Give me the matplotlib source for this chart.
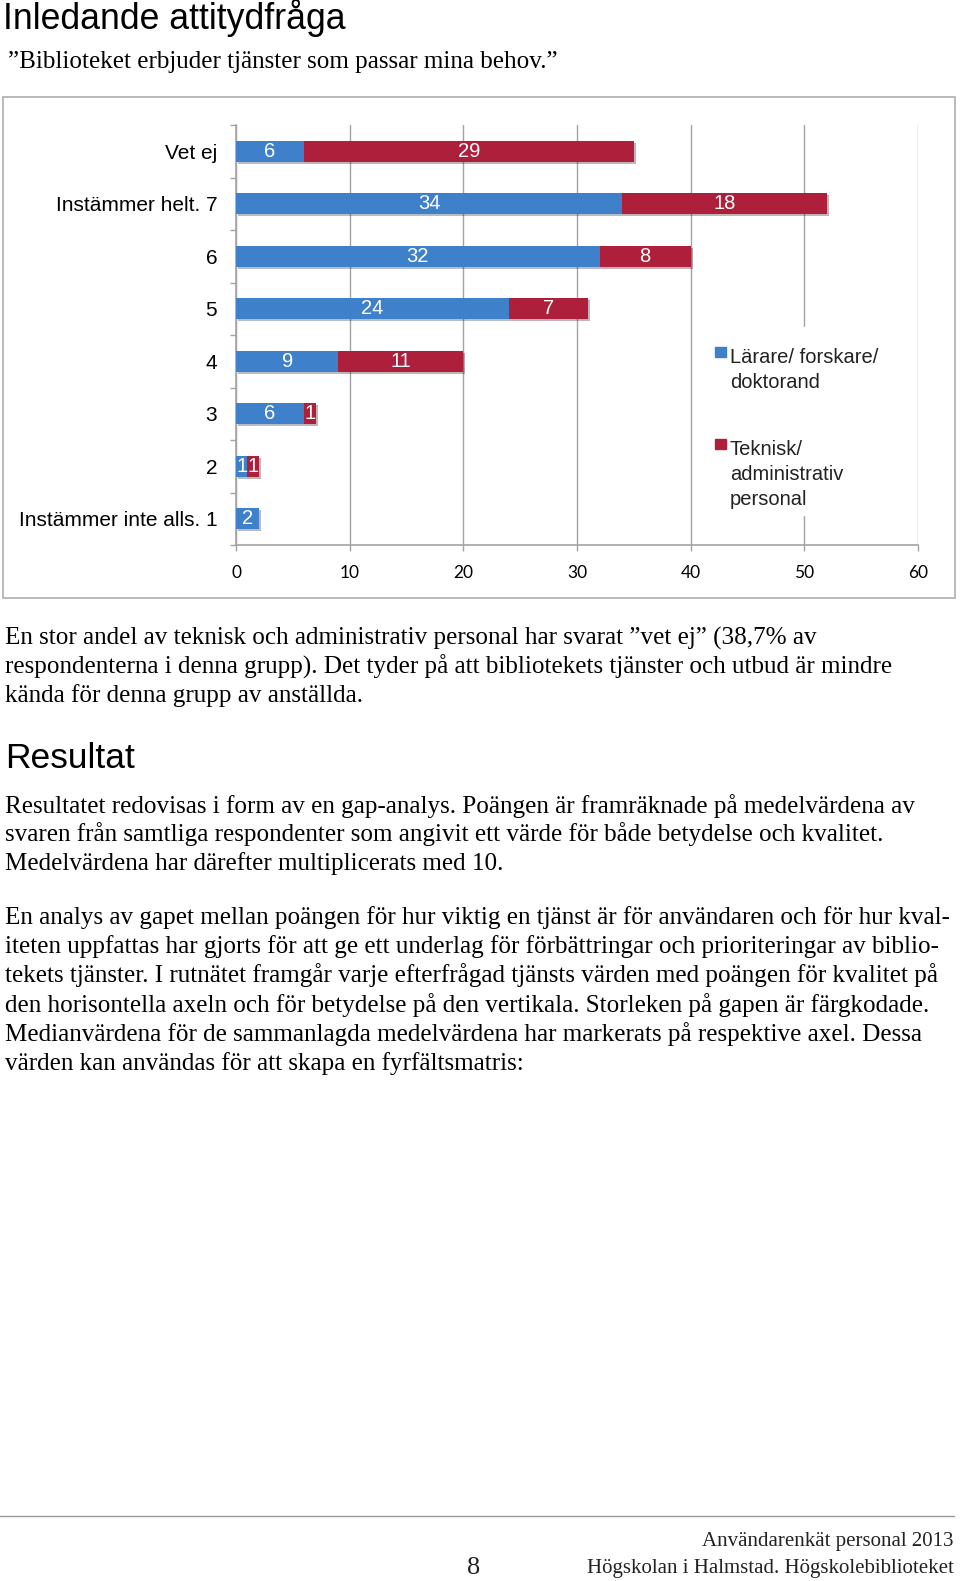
import matplotlib
matplotlib.use("Agg")
import matplotlib.pyplot as plt
import matplotlib.patheffects as pe
from matplotlib.patches import Rectangle
from matplotlib.lines import Line2D
import numpy as np

# --- data ---
kategorier = ["Instämmer inte alls. 1", "2", "3", "4", "5", "6", "Instämmer helt. 7", "Vet ej"]
larare = [2, 1, 6, 9, 24, 32, 34, 6]        # Lärare/ forskare/ doktorand
teknisk = [0, 1, 1, 11, 7, 8, 18, 29]       # Teknisk/ administrativ personal
serie_namn = ["Lärare/ forskare/\ndoktorand", "Teknisk/\nadministrativ\npersonal"]
x_ticks = [0, 10, 20, 30, 40, 50, 60]

rubrik = "Inledande attitydfråga"
fraga = "”Biblioteket erbjuder tjänster som passar mina behov.”"
stycke1 = [
    "En stor andel av teknisk och administrativ personal har svarat ”vet ej” (38,7% av",
    "respondenterna i denna grupp). Det tyder på att bibliotekets tjänster och utbud är mindre",
    "kända för denna grupp av anställda.",
]
rubrik2 = "Resultat"
stycke2 = [
    "Resultatet redovisas i form av en gap-analys. Poängen är framräknade på medelvärdena av",
    "svaren från samtliga respondenter som angivit ett värde för både betydelse och kvalitet.",
    "Medelvärdena har därefter multiplicerats med 10.",
]
stycke3 = [
    "En analys av gapet mellan poängen för hur viktig en tjänst är för användaren och för hur kval-",
    "iteten uppfattas har gjorts för att ge ett underlag för förbättringar och prioriteringar av biblio-",
    "tekets tjänster. I rutnätet framgår varje efterfrågad tjänsts värden med poängen för kvalitet på",
    "den horisontella axeln och för betydelse på den vertikala. Storleken på gapen är färgkodade.",
    "Medianvärdena för de sammanlagda medelvärdena har markerats på respektive axel. Dessa",
    "värden kan användas för att skapa en fyrfältsmatris:",
]
sidfot = ["Användarenkät personal 2013", "Högskolan i Halmstad. Högskolebiblioteket"]
sidnr = "8"

W, H = 960, 1581
BLA = "#3f80cb"
ROD = "#ad1f3b"
GRA = "#a3a3a3"
SANS = "Liberation Sans"
SERIF = "Liberation Serif"
BRODTEXT = 18.1


def fx(x):
    return x / W


def fy(y):
    return 1 - y / H


fig = plt.figure(figsize=(W / 100, H / 100), dpi=100)

# rubriker och text
fig.text(fx(3), fy(29), rubrik, family=SANS, size=25.7, va="baseline")
fig.text(fx(8), fy(68), fraga, family=SERIF, size=BRODTEXT, va="baseline")

for i, rad in enumerate(stycke1):
    fig.text(fx(5), fy(645 + i * 28.5), rad, family=SERIF, size=BRODTEXT, va="baseline")
fig.text(fx(5), fy(768), rubrik2, family=SANS, size=25.5, va="baseline")
for i, rad in enumerate(stycke2):
    fig.text(fx(5), fy(813 + i * 28.5), rad, family=SERIF, size=BRODTEXT, va="baseline")
for i, rad in enumerate(stycke3):
    fig.text(fx(5), fy(924 + i * 29.2), rad, family=SERIF, size=BRODTEXT, va="baseline")

# ram runt diagrammet
fig.add_artist(Rectangle((fx(3), fy(598)), fx(955) - fx(3), fy(97) - fy(598),
                         transform=fig.transFigure, fill=False, ec="#b4b4b4", lw=1.3))

ax = fig.add_axes([fx(236), fy(545), fx(918) - fx(236), fy(125) - fy(545)])
ax.patch.set_alpha(0)
y = np.arange(len(kategorier))
skugga = [pe.SimplePatchShadow(offset=(1.5, -1.5), alpha=0.3), pe.Normal()]
b1 = ax.barh(y, larare, height=0.4, color=BLA, zorder=3, path_effects=skugga)
b2 = ax.barh(y, teknisk, height=0.4, left=larare, color=ROD, zorder=3, path_effects=skugga)
for b, v in ((b1, larare), (b2, teknisk)):
    ax.bar_label(b, labels=[str(t) if t else "" for t in v], label_type="center",
                 color="white", family=SANS, size=14.5, zorder=5)

ax.set_xlim(0, 60)
ax.set_ylim(-0.5, 7.5)
ax.set_xticks(x_ticks)
ax.set_yticks(y, kategorier)
ax.set_yticks(np.arange(-0.5, 8), minor=True)
ax.tick_params(axis="y", which="major", length=0, pad=13.5, labelsize=15)
ax.tick_params(axis="y", which="minor", length=4.5, color=GRA, width=1)
ax.tick_params(axis="x", length=4.5, color=GRA, width=1, pad=10, labelsize=12.5)
for t in ax.get_yticklabels():
    t.set_family(SANS)
for t in ax.get_xticklabels():
    t.set_family("Lato")
for s in ("top", "right"):
    ax.spines[s].set_visible(False)
for s in ("left", "bottom"):
    ax.spines[s].set_color(GRA)
    ax.spines[s].set_linewidth(1.2)
ax.grid(axis="x", color=GRA, lw=1)
ax.set_axisbelow(True)

# förklaring
ax.add_patch(Rectangle((fx(712), fy(515)), fx(895) - fx(712), fy(327) - fy(515),
                       transform=fig.transFigure, color="white", zorder=4, clip_on=False))
for farg, namn, ytop in ((BLA, serie_namn[0], 347), (ROD, serie_namn[1], 439)):
    ax.add_patch(Rectangle((fx(715), fy(ytop + 10)), fx(726) - fx(715), fy(ytop) - fy(ytop + 10),
                           transform=fig.transFigure, color=farg, zorder=5, clip_on=False))
    ax.text(fx(730), fy(ytop + 1), namn, transform=fig.transFigure, family=SANS, size=14.5,
            color="#222222", va="top", linespacing=1.4, zorder=5)

# sidfot
fig.add_artist(Line2D([0, fx(954)], [fy(1516), fy(1516)], transform=fig.transFigure,
                      color="#9a9a9a", lw=1))
fig.text(fx(954), fy(1546), sidfot[0], family=SERIF, size=15, ha="right", va="baseline",
         color="#222222")
fig.text(fx(954), fy(1573), sidfot[1], family=SERIF, size=15, ha="right", va="baseline",
         color="#222222")
fig.text(fx(474), fy(1574), sidnr, family=SERIF, size=19, ha="center", va="baseline",
         color="#222222")

fig.savefig("out.png", dpi=100)
